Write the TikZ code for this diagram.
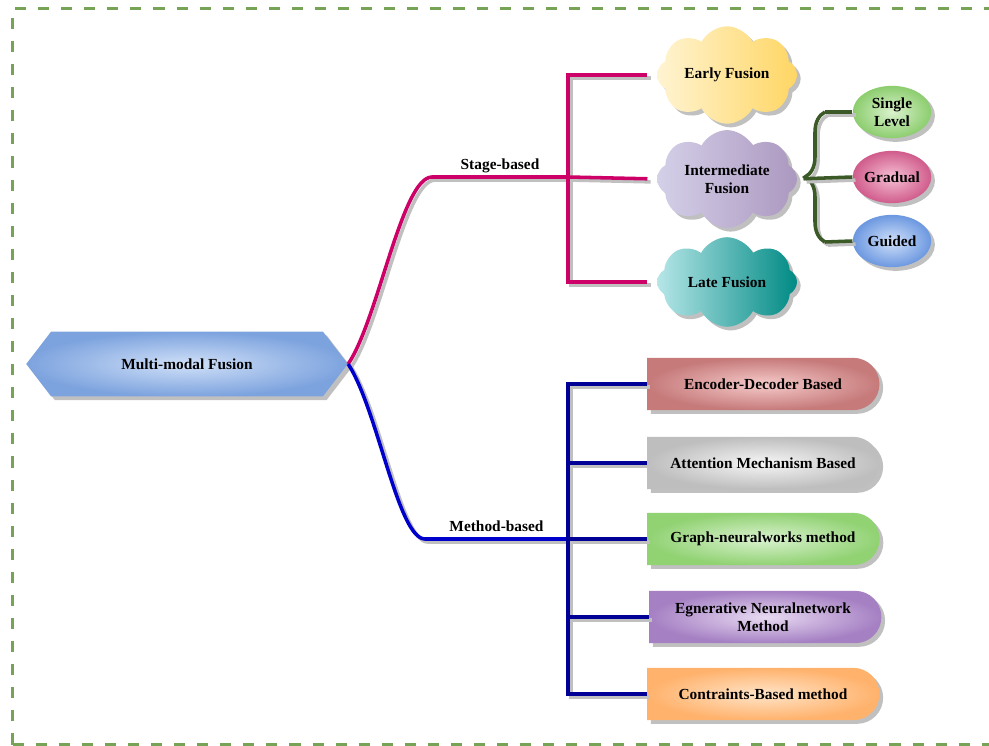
\documentclass[tikz,border=0pt]{standalone}
\usepackage{fontspec}
\setmainfont{Liberation Serif}
\usetikzlibrary{shapes.symbols,shapes.geometric,shapes.misc,shadows,decorations.pathreplacing}

\definecolor{framegreen}{RGB}{118,163,86}
\definecolor{shadowgray}{RGB}{192,192,192}
\definecolor{stagecol}{RGB}{204,0,102}
\definecolor{methodcol}{RGB}{0,0,204}
\definecolor{methodbar}{RGB}{0,0,150}
\definecolor{bracecol}{RGB}{60,90,40}
\definecolor{hexin}{RGB}{208,224,248}
\definecolor{hexout}{RGB}{125,163,222}
\definecolor{earlyl}{RGB}{255,244,210}
\definecolor{earlyr}{RGB}{255,214,100}
\definecolor{interl}{RGB}{212,208,232}
\definecolor{interr}{RGB}{172,152,192}
\definecolor{latel}{RGB}{182,230,232}
\definecolor{later}{RGB}{0,138,132}
\definecolor{singlein}{RGB}{218,242,205}
\definecolor{singleout}{RGB}{140,205,110}
\definecolor{gradualin}{RGB}{246,192,212}
\definecolor{gradualout}{RGB}{208,92,140}
\definecolor{guidedin}{RGB}{208,224,250}
\definecolor{guidedout}{RGB}{108,152,224}
\definecolor{encoderin}{RGB}{246,202,202}
\definecolor{encoderout}{RGB}{198,122,122}
\definecolor{attentionin}{RGB}{246,246,246}
\definecolor{attentionout}{RGB}{190,190,190}
\definecolor{graphin}{RGB}{218,242,208}
\definecolor{graphout}{RGB}{145,210,115}
\definecolor{generativein}{RGB}{232,218,242}
\definecolor{generativeout}{RGB}{165,128,195}
\definecolor{constraintin}{RGB}{255,228,200}
\definecolor{constraintout}{RGB}{255,178,108}

\begin{document}
\begin{tikzpicture}[x=0.65pt,y=-0.65pt]
    \tikzstyle{every node}+=[font=\bfseries, align=center, text=black]
    \tikzstyle{dropgray}=[drop shadow={opacity=1, fill=shadowgray, shadow xshift=2.4pt, shadow yshift=-2.4pt}]
    \tikzstyle{cloudnode}=[cloud, cloud puffs=8, cloud puff arc=125, aspect=1.6, minimum width=91pt, minimum height=57pt, inner sep=0pt, dropgray]
    \tikzstyle{ovalnode}=[ellipse, minimum width=51pt, minimum height=34pt, inner sep=0pt, dropgray]
    \tikzstyle{boxnode}=[rounded rectangle, rounded rectangle left arc=none, minimum width=151pt, minimum height=34pt, inner sep=0pt, dropgray]
    \tikzstyle{link}=[line width=2.3pt, preaction={draw=shadowgray, line width=2.3pt, transform canvas={xshift=2pt, yshift=-2pt}}]
    \tikzstyle{branchlabel}=[above, inner sep=2pt, text depth=2pt]
    \tikzstyle{frame}=[framegreen, line width=2.4pt, dash pattern=on 7.2pt off 7.8pt]
    \useasboundingbox (0,0) rectangle (989,746);
    \draw [frame] (12.5,744.5) -- (12.5,8.5) -- (1010,8.5);
    \draw [frame] (12.5,744.5) -- (1010,744.5);
    % root
    \node [signal, signal to=east and west, signal pointer angle=105, minimum width=209pt, minimum height=42pt, inner color=hexin, outer color=hexout, dropgray] (fusion) at (187,364) {Multi-modal Fusion};
    % stage-based branch
    \node [cloudnode, left color=earlyl, right color=earlyr] (early) at (727,75) {Early Fusion};
    \node [cloudnode, left color=interl, right color=interr] (inter) at (727,179) {Intermediate\\Fusion};
    \node [cloudnode, left color=latel, right color=later] (late) at (727,282) {Late Fusion};
    \node [ovalnode, inner color=singlein, outer color=singleout] (single) at (892,112) {Single\\Level};
    \node [ovalnode, inner color=gradualin, outer color=gradualout] (gradual) at (892,177) {Gradual};
    \node [ovalnode, inner color=guidedin, outer color=guidedout] (guided) at (892,241) {Guided};
    % method-based branch
    \node [boxnode, inner color=encoderin, outer color=encoderout] (encoder) at (763,384) {Encoder-Decoder Based};
    \node [boxnode, inner color=attentionin, outer color=attentionout] (attention) at (763,463) {Attention Mechanism Based};
    \node [boxnode, inner color=graphin, outer color=graphout] (graph) at (763,539) {Graph-neuralworks method};
    \node [boxnode, inner color=generativein, outer color=generativeout] (generative) at (763,617) {Egnerative Neuralnetwork\\Method};
    \node [boxnode, inner color=constraintin, outer color=constraintout] (constraint) at (763,694) {Contraints-Based method};
    \coordinate (stagebend) at (432,177);
    \coordinate (stagejoin) at (568,177);
    \coordinate (methodbend) at (425,539);
    \coordinate (methodjoin) at (568,539);
    \coordinate (bracetop) at (825,112);
    \coordinate (bracebot) at (825,242);
    % connectors
    \draw [link, stagecol] (fusion.east) .. controls (378,320) and (402,177) .. (stagebend) -- (stagejoin) node [midway, branchlabel] {Stage-based};
    \draw [link, stagecol, shorten <=6pt, shorten >=6pt] (early.west) -| (stagejoin) |- (late.west);
    \draw [link, stagecol, shorten >=6pt] (stagejoin) -- (inter.west);
    \draw [link, methodcol] (fusion.east) .. controls (378,410) and (398,539) .. (methodbend) -- (methodjoin) node [midway, branchlabel] {Method-based};
    \draw [link, methodbar] (encoder.west) -| (methodjoin) |- (constraint.west);
    \draw [link, methodbar] (methodjoin |- attention.west) -- (attention.west);
    \draw [link, methodbar] (methodjoin) -- (graph.west);
    \draw [link, methodbar] (methodjoin |- generative.west) -- (generative.west);
    \draw [link, bracecol, decorate, decoration={brace, amplitude=13pt}] (bracebot) -- (bracetop);
    \draw [link, bracecol] (bracetop) -- (single.west);
    \draw [link, bracecol] (bracebot) -- (guided.west);
    \draw [link, bracecol, shorten <=4pt] (inter.east) -- (gradual.west);
\end{tikzpicture}
\end{document}
